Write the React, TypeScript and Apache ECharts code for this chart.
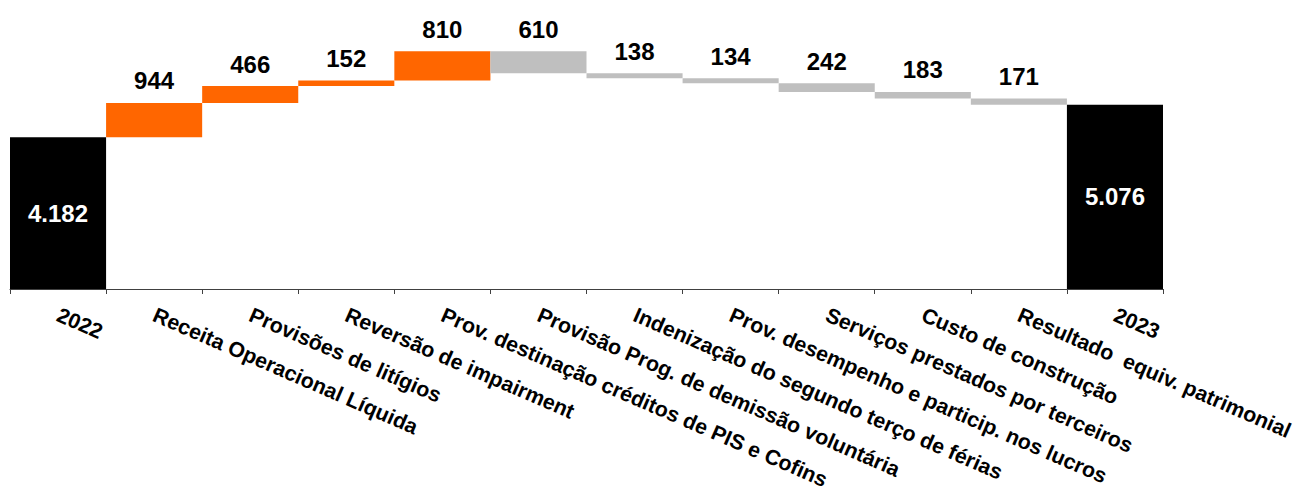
import React, { useEffect, useRef } from "react";
import * as echarts from "echarts";

const categories = [
  "2022",
  "Receita Operacional Líquida",
  "Provisões de litígios",
  "Reversão de impairment",
  "Prov. destinação créditos de PIS e Cofins",
  "Provisão Prog. de demissão voluntária",
  "Indenização do segundo terço de férias",
  "Prov. desempenho e particip. nos lucros",
  "Serviços prestados por terceiros",
  "Custo de construção",
  "Resultado  equiv. patrimonial",
  "2023",
];
const startValue = 4182;
const endValue = 5076;
const changes = [944, 466, 152, 810, -610, -138, -134, -242, -183, -171];

const fmtThousands = (v: number) =>
  String(v).replace(/\B(?=(\d{3})+(?!\d))/g, ".");

function buildSeriesData() {
  const base: (number | string)[] = [0];
  const totals: (number | string)[] = [startValue];
  const inc: (number | string)[] = ["-"];
  const dec: (number | string)[] = ["-"];
  let level = startValue;
  for (const c of changes) {
    if (c >= 0) {
      base.push(level);
      inc.push(c);
      dec.push("-");
    } else {
      base.push(level + c);
      inc.push("-");
      dec.push(-c);
    }
    totals.push("-");
    level += c;
  }
  base.push(0);
  totals.push(endValue);
  inc.push("-");
  dec.push("-");
  return { base, totals, inc, dec };
}

const FONT = 'Arial, "Liberation Sans", sans-serif';

export default function App() {
  const ref = useRef<HTMLDivElement>(null);
  useEffect(() => {
    if (!ref.current) return;
    const chart = echarts.init(ref.current, undefined, { renderer: "svg" });
    const { base, totals, inc, dec } = buildSeriesData();
    const topLabel = {
      show: true,
      position: "top",
      distance: 10,
      color: "#000",
      fontSize: 24,
      fontWeight: "bold",
      fontFamily: FONT,
    };
    chart.setOption({
      animation: false,
      backgroundColor: "#fff",
      grid: {
        left: 10,
        right: 136,
        top: 35,
        bottom: 204,
        containLabel: false,
        outerBoundsMode: "none",
      },
      xAxis: {
        type: "category",
        data: categories,
        axisLine: { show: true, lineStyle: { color: "#404040", width: 1 } },
        axisTick: { show: true, length: 5, lineStyle: { color: "#404040", width: 1 } },
        axisLabel: {
          interval: 0,
          rotate: -23.5,
          margin: 25,
          fontSize: 21.3,
          fontWeight: "bold",
          color: "#000",
          fontFamily: FONT,
        },
      },
      yAxis: { type: "value", min: 0, max: 7000, show: false, splitLine: { show: false } },
      series: [
        {
          type: "bar",
          stack: "w",
          data: base,
          barCategoryGap: "0%",
          itemStyle: { color: "transparent" },
          silent: true,
        },
        {
          type: "bar",
          stack: "w",
          data: totals,
          barCategoryGap: "0%",
          itemStyle: { color: "#000000" },
          label: {
            show: true,
            position: "inside",
            color: "#fff",
            fontSize: 24,
            fontWeight: "bold",
            fontFamily: FONT,
            formatter: (p: any) => fmtThousands(p.value),
          },
        },
        {
          type: "bar",
          stack: "w",
          data: inc,
          barCategoryGap: "0%",
          itemStyle: { color: "#FF6600" },
          label: { ...topLabel, formatter: (p: any) => String(p.value) },
        },
        {
          type: "bar",
          stack: "w",
          data: dec,
          barCategoryGap: "0%",
          itemStyle: { color: "#BFBFBF" },
          label: { ...topLabel, formatter: (p: any) => String(p.value) },
        },
      ],
    });
    return () => chart.dispose();
  }, []);
  return (
    <div
      ref={ref}
      style={{ position: "absolute", left: 0, top: 0, width: 1299, height: 493 }}
    />
  );
}
